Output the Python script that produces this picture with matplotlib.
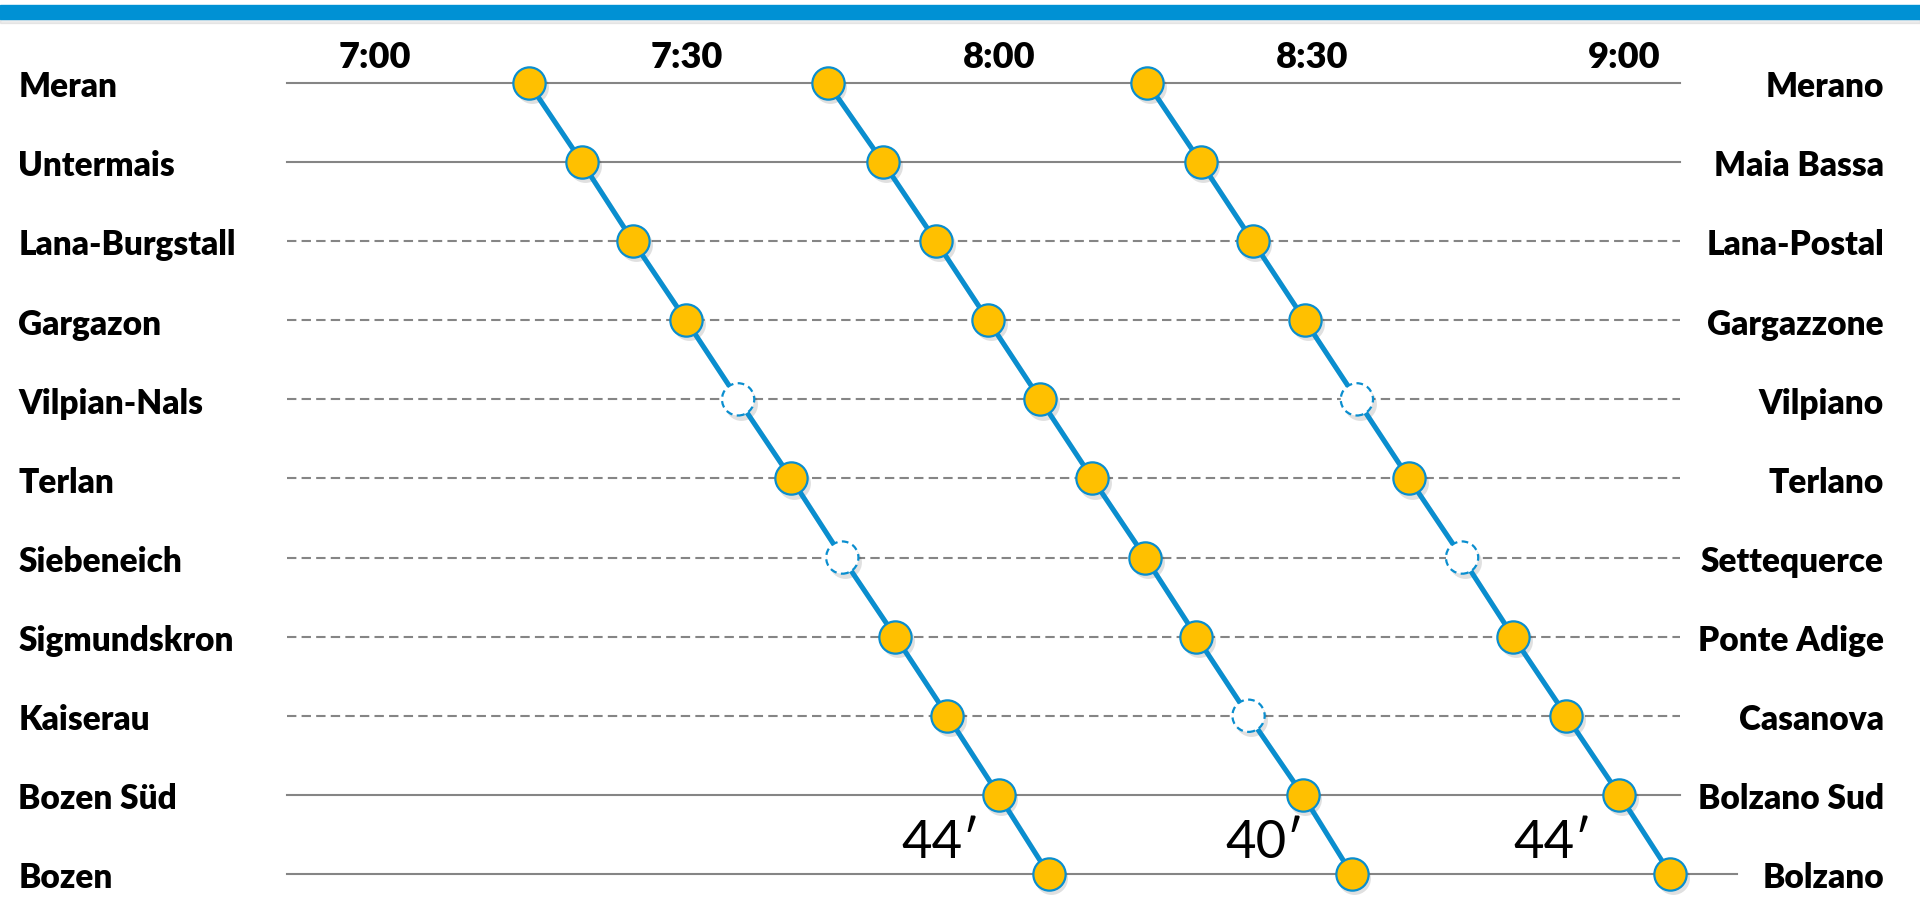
import matplotlib
import matplotlib.pyplot as plt
from matplotlib.patches import Rectangle
from matplotlib import transforms
matplotlib.use('Agg')

stations_de = ['Meran', 'Untermais', 'Lana-Burgstall', 'Gargazon', 'Vilpian-Nals',
               'Terlan', 'Siebeneich', 'Sigmundskron', 'Kaiserau', 'Bozen Süd', 'Bozen']
stations_it = ['Merano', 'Maia Bassa', 'Lana-Postal', 'Gargazzone', 'Vilpiano',
               'Terlano', 'Settequerce', 'Ponte Adige', 'Casanova', 'Bolzano Sud', 'Bolzano']
solid_rows = [0, 1, 9, 10]

# minutes after 7:00
train_1 = [13.8, 18.9, 23.8, 28.9, 33.9, 39.0, 43.9, 49.0, 54.0, 58.9, 63.7]
train_2 = [42.5, 47.8, 52.9, 57.9, 62.9, 67.9, 73.0, 77.9, 82.9, 88.1, 92.8]
train_3 = [73.2, 78.3, 83.3, 88.3, 93.3, 98.3, 103.4, 108.3, 113.4, 118.5, 123.4]
skipped = [[4, 6], [8], [4, 6]]
durations = ["44′", "40′", "44′"]

tick_minutes = [0, 30, 60, 90, 120]
tick_labels = ['7:00', '7:30', '8:00', '8:30', '9:00']

BLUE = '#0A8ECF'
YELLOW = '#FFC000'
GREY = '#858585'
FONT = ['Lato', 'DejaVu Sans']

fig = plt.figure(figsize=(19.2, 9.09), dpi=100)
ax = fig.add_axes([0, 0, 1, 1])
# axis laid out so that 7:00 sits at x=385px and rows are 79px apart
ax.set_xlim(-36.96, 147.36)
ax.set_ylim(10.443, -1.049)
ax.axis('off')

# top blue band with a little shadow
fig.patches.append(Rectangle((0, 1 - 23 / 909), 1, 6 / 909, transform=fig.transFigure,
                             color='#000000', alpha=0.07, zorder=0))
fig.patches.append(Rectangle((0, 1 - 19 / 909), 1, 14 / 909, transform=fig.transFigure,
                             color='#0091D4', zorder=1))

# station rows
for i in range(len(stations_de)):
    end = 129.8 if i == len(stations_de) - 1 else 124.3
    ls = '-' if i in solid_rows else (0, (4.5, 2.5))
    ax.plot([-9.4, end], [i, i], color=GREY, lw=1.5, ls=ls, zorder=1)
    ax.text(-35.2, i + 0.18, stations_de[i], ha='left', va='baseline',
            fontsize=24, fontweight='heavy', family=FONT)
    ax.text(143.9, i + 0.18, stations_it[i], ha='right', va='baseline',
            fontsize=24, fontweight='heavy', family=FONT)

for m, lab in zip(tick_minutes, tick_labels):
    ax.text(m - 1.0, -0.19, lab, ha='center', va='baseline', fontsize=26,
            fontweight='heavy', family=FONT)

shadow = transforms.offset_copy(ax.transData, fig=fig, x=2, y=-3, units='points')
rows = list(range(len(stations_de)))
for times, skip in zip([train_1, train_2, train_3], skipped):
    ax.plot(times, rows, color='black', lw=3.6, alpha=0.12, transform=shadow, zorder=2)
    ax.scatter(times, rows, s=560, color='black', alpha=0.12, lw=0,
               transform=shadow, zorder=2)
    ax.plot(times, rows, color=BLUE, lw=3.6, solid_capstyle='round', zorder=3)
    stop = [r for r in rows if r not in skip]
    ax.scatter([times[r] for r in stop], stop, s=540, facecolor=YELLOW,
               edgecolor=BLUE, linewidth=1.6, zorder=4)
    ax.scatter([times[r] for r in skip], skip, s=540, facecolor='white',
               edgecolor=BLUE, linewidth=1.6, linestyle=(0, (3, 2)), zorder=4)

dur_x = [53.3, 84.4, 112.1]
for x, d in zip(dur_x, durations):
    ax.text(x, 9.61, d, ha='center', va='center', fontsize=38, family=FONT)

fig.savefig('out.png', dpi=100)
